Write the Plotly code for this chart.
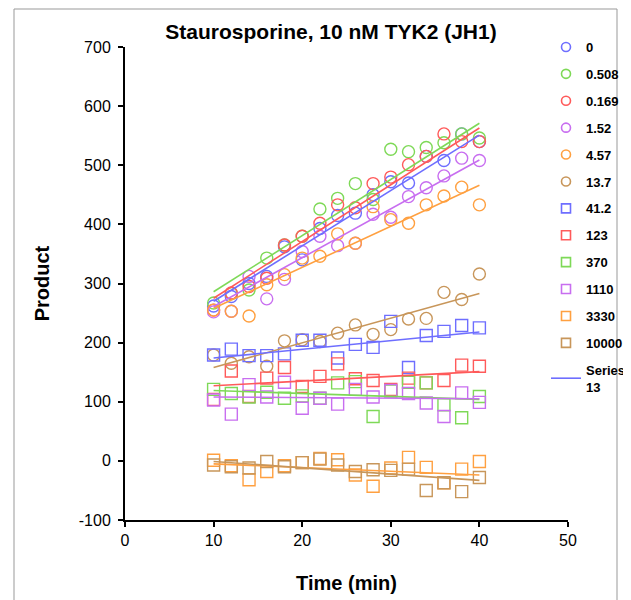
import plotly.graph_objects as go

time_min = [10, 12, 14, 16, 18, 20, 22, 24, 26, 28, 30, 32, 34, 36, 38, 40]

series_names = ["0", "0.508", "0.169", "1.52", "4.57", "13.7",
                "41.2", "123", "370", "1110", "3330", "10000"]

s_0 = [262, 278, 300, 312, 362, 340, 393, 415, 419, 450, 472, 470, 515, 508, 553, 540]
s_0508 = [267, 283, 289, 343, 365, 380, 426, 444, 469, 442, 527, 523, 530, 538, 553, 546]
s_0169 = [255, 284, 295, 309, 365, 380, 402, 433, 428, 469, 480, 501, 515, 553, 540, 540]
s_152 = [252, 253, 312, 274, 307, 354, 380, 364, 368, 417, 412, 447, 462, 482, 512, 508]
s_457 = [255, 253, 245, 298, 315, 343, 346, 384, 368, 430, 408, 402, 433, 448, 463, 433]
s_137 = [179, 165, 176, 160, 203, 205, 202, 216, 230, 214, 222, 240, 241, 285, 273, 316]
s_412 = [179, 189, 178, 178, 181, 204, 204, 174, 197, 192, 236, 158, 212, 219, 229, 225]
s_123 = [104, 152, 109, 140, 158, 126, 143, 164, 139, 136, 121, 140, 132, 136, 162, 160]
s_370 = [121, 114, 108, 116, 106, 110, 106, 132, 134, 75, 118, 133, 132, 95, 73, 109]
s_1110 = [103, 79, 129, 108, 133, 89, 106, 96, 121, 108, 119, 114, 98, 75, 115, 99]
s_3330 = [1, -8, -32, -18, -8, -3, 4, 2, -24, -43, -12, 6, -11, -37, -14, -1]
s_10000 = [-7, -10, -12, -1, -10, -3, 3, -7, -18, -15, -16, -14, -50, -37, -52, -28]

series_values = [s_0, s_0508, s_0169, s_152, s_457, s_137,
                 s_412, s_123, s_370, s_1110, s_3330, s_10000]

# linear trend lines, values at t = 10 and t = 40
trend_time = [10, 40]
trend_start = [270, 286, 275, 261, 258, 158, 174, 127, 119, 108, -5, -1]
trend_end = [551, 571, 563, 509, 466, 283, 218, 151, 104, 105, -24, -33]

y_tick_vals = [-100, 0, 100, 200, 300, 400, 500, 600, 700]
y_tick_text = ["-100", "0", "100", "200", "300", "400", "500", "600", "700"]
x_tick_vals = [0, 10, 20, 30, 40, 50]

BLUE, GREEN, RED, PURPLE, ORANGE, BROWN = "#6E6EFF", "#7ED957", "#FF5A5A", "#C86EF0", "#FFA040", "#C8965A"
colors = [BLUE, GREEN, RED, PURPLE, ORANGE, BROWN,
          BLUE, RED, GREEN, PURPLE, ORANGE, BROWN]
symbols = ["circle-open"] * 6 + ["square-open"] * 6

fig = go.Figure()

for name, vals, col, sym in zip(series_names, series_values, colors, symbols):
    fig.add_trace(go.Scatter(
        x=time_min, y=vals, mode="markers", name=name, showlegend=False,
        marker=dict(symbol=sym, size=12, color=col, line=dict(width=1.4, color=col)),
    ))

for i, (name, col) in enumerate(zip(series_names, colors)):
    fig.add_trace(go.Scatter(
        x=trend_time, y=[trend_start[i], trend_end[i]], mode="lines",
        name=name + " fit", showlegend=False,
        line=dict(color=col, width=1.6),
    ))

# legend entries (smaller symbols, as in the reference legend)
for name, col, sym in zip(series_names, colors, symbols):
    fig.add_trace(go.Scatter(
        x=[None], y=[None], mode="markers", name="<b>" + name + "</b>",
        legendgroup=name,
        marker=dict(symbol=sym, size=9, color=col, line=dict(width=1.6, color=col)),
    ))
fig.add_trace(go.Scatter(
    x=[None], y=[None], mode="lines", name="<b>Series<br>13</b>",
    legendgroup="series13", line=dict(color=BLUE, width=1.6),
))

font_family = "Liberation Sans, Arial, sans-serif"
OFF = 8  # page offset of the plot div

fig.update_layout(
    width=631, height=600,
    paper_bgcolor="white", plot_bgcolor="white",
    margin=dict(l=125 - OFF, r=631 - (568 - OFF), t=47 - OFF, b=600 - (520 - OFF), autoexpand=False),
    font=dict(family=font_family, color="black"),
    title=dict(text="<b>Staurosporine, 10 nM TYK2 (JH1)</b>",
               x=(331 - OFF) / 631, xanchor="center", y=1 - (32 - OFF) / 600, yanchor="middle",
               yref="container", xref="container",
               font=dict(size=21, family=font_family, color="black")),
    xaxis=dict(range=[0, 50], tickvals=x_tick_vals, showgrid=False, zeroline=False,
               showline=True, linecolor="black", linewidth=2,
               ticks="outside", ticklen=5, tickwidth=2, tickcolor="black",
               tickfont=dict(size=16, family=font_family),
               tickprefix="<b>", ticksuffix="</b>", automargin=False,
               title=dict(text="<b>Time (min)</b>", font=dict(size=20), standoff=28)),
    yaxis=dict(range=[-100, 700], tickvals=y_tick_vals, ticktext=y_tick_text,
               showgrid=False, zeroline=False,
               showline=True, linecolor="black", linewidth=2,
               ticks="outside", ticklen=5, tickwidth=2, tickcolor="black",
               tickfont=dict(size=16, family=font_family),
               tickprefix="<b>", ticksuffix="</b>", automargin=False,
               ticklabelstandoff=4,
               title=dict(text="<b>Product</b>", font=dict(size=20), standoff=24)),
    legend=dict(xref="container", yref="container",
                x=(546 - OFF) / 631, xanchor="left", y=1 - (32 - OFF) / 600, yanchor="top",
                font=dict(size=13, family=font_family),
                tracegroupgap=7, bgcolor="rgba(0,0,0,0)",
                itemwidth=30, maxheight=600),
    showlegend=True,
)

fig.add_shape(type="rect", xref="paper", yref="paper",
              x0=(14 - 125) / 443, x1=(617 - 125) / 443,
              y0=(520 - 612) / 473, y1=(520 - 9) / 473,
              line=dict(color="#999999", width=1), layer="above")

fig.write_html("out.html")
